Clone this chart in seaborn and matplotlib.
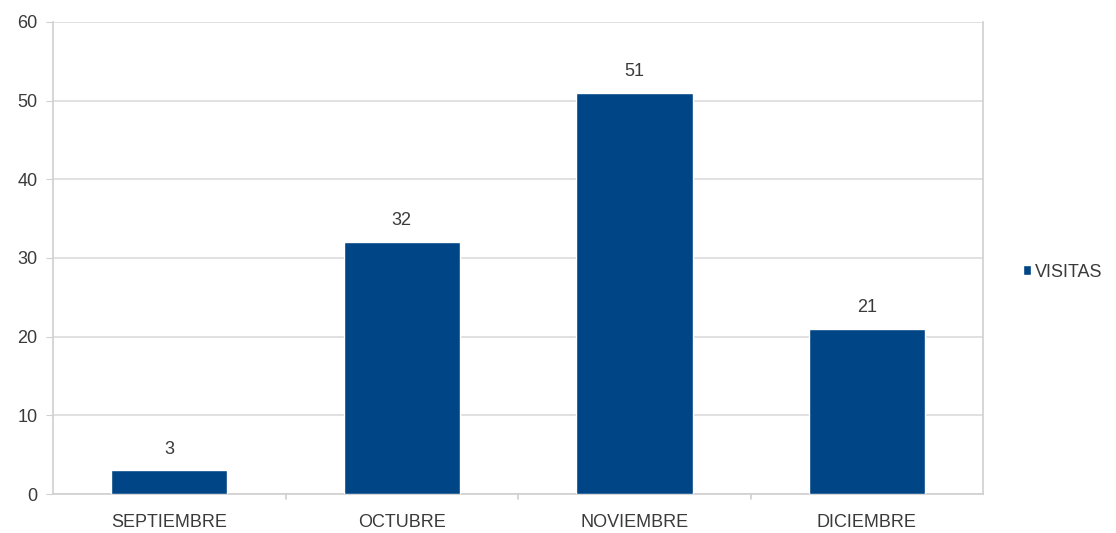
import pandas as pd
import matplotlib
matplotlib.use('Agg')
import matplotlib.pyplot as plt
import seaborn as sns

# Data
months = ['SEPTIEMBRE', 'OCTUBRE', 'NOVIEMBRE', 'DICIEMBRE']
visitas = [3, 32, 51, 21]
yticks = [0, 10, 20, 30, 40, 50, 60]

df = pd.DataFrame({'mes': months, 'visitas': visitas})

sns.set_style('white')
plt.rcParams['font.family'] = ['Liberation Sans', 'DejaVu Sans']

fig = plt.figure(figsize=(11.16, 5.33), dpi=100)
ax = fig.add_axes([0.0475, 0.073, 0.8335, 0.886])

bar_color = '#004586'
sns.barplot(data=df, x='mes', y='visitas', color=bar_color, width=0.5,
            saturation=1, ax=ax, zorder=3, label='VISITAS')

ax.set_ylim(0, 60)
ax.set_xlim(-0.5, len(months) - 0.5)
ax.set_yticks(yticks)
ax.yaxis.grid(True, color='#dcdcdc', linewidth=1.2, zorder=0)
ax.set_axisbelow(True)
ax.set_xlabel('')
ax.set_ylabel('')

for side in ['left', 'right', 'bottom']:
    ax.spines[side].set_color('#d0d0d0')
    ax.spines[side].set_linewidth(1.2)
ax.spines['top'].set_visible(False)

txt_color = '#3a3a3a'
ax.tick_params(axis='y', labelsize=13, labelcolor=txt_color, length=5,
               color='#d0d0d0', left=True, pad=6)
ax.tick_params(axis='x', labelsize=13, labelcolor=txt_color, length=0, pad=14)

# small ticks between categories
for b in [0.5, 1.5, 2.5]:
    ax.plot([b, b], [0, -0.6], color='#d0d0d0', lw=1.2, clip_on=False)

# value labels
for i, v in enumerate(visitas):
    ax.text(i, v + 2.7, str(v), ha='center', va='center', fontsize=13,
            color=txt_color)

leg = ax.legend(loc='center left', bbox_to_anchor=(1.025, 0.47), frameon=False,
                fontsize=13, handlelength=0.45, handleheight=0.45,
                handletextpad=0.25, labelcolor=txt_color)

fig.savefig('out.png', dpi=100)
